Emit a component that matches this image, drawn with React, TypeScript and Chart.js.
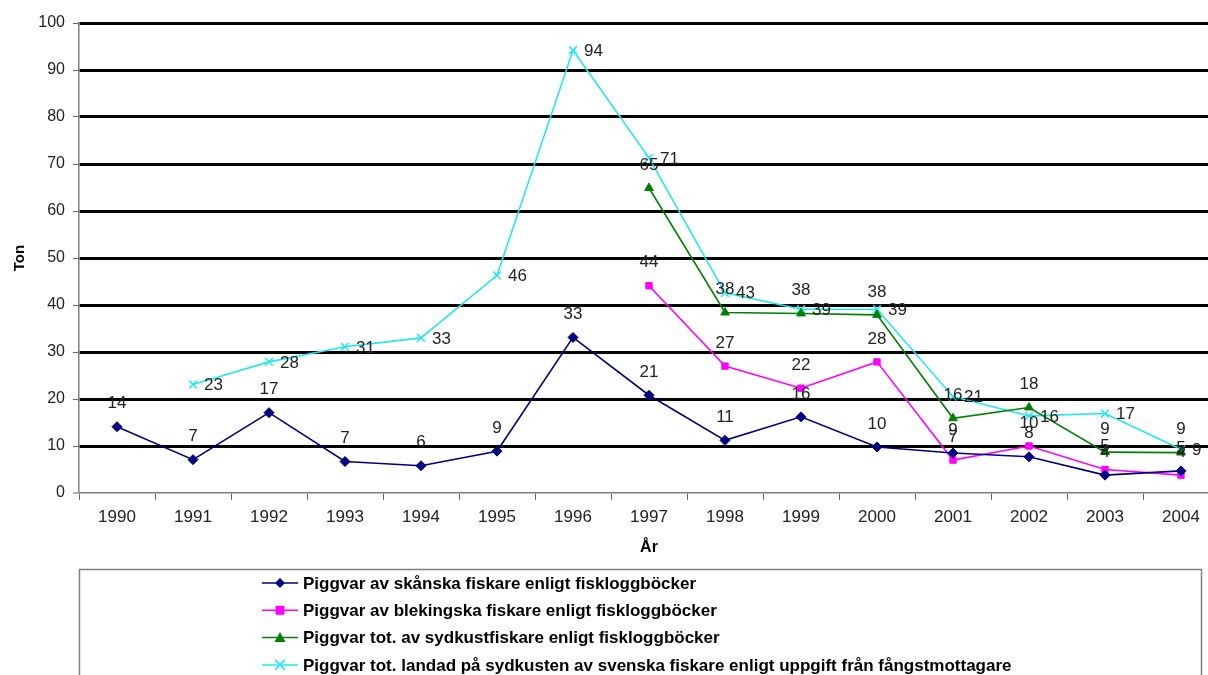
import React, { useEffect, useRef } from "react";
import { Chart, registerables } from "chart.js";

Chart.register(...registerables);

const years = ["1990","1991","1992","1993","1994","1995","1996","1997","1998","1999","2000","2001","2002","2003","2004"];
const skanska = [14.1, 7.1, 17.1, 6.7, 5.8, 8.9, 33.1, 20.8, 11.2, 16.2, 9.8, 8.5, 7.7, 3.8, 4.7];
const blekingska = [null, null, null, null, null, null, null, 44.1, 27.0, 22.3, 27.9, 7.0, 10.0, 5.0, 3.8];
const sydkust = [null, null, null, null, null, null, null, 64.9, 38.4, 38.2, 37.9, 15.9, 18.2, 8.7, 8.6];
const landad = [null, 23.1, 27.9, 31.1, 33.0, 46.3, 94.2, 71.3, 42.6, 39.1, 39.1, 20.5, 16.4, 16.9, 9.3];
const seriesNames = [
  "Piggvar av skånska fiskare enligt fiskloggböcker",
  "Piggvar av blekingska fiskare enligt fiskloggböcker",
  "Piggvar tot. av sydkustfiskare enligt fiskloggböcker",
  "Piggvar tot. landad på sydkusten av svenska fiskare enligt uppgift från fångstmottagare",
];
const seriesColors = ["#000080", "#ff00ff", "#008000", "#22e6ee"];
const yTicks = [0, 10, 20, 30, 40, 50, 60, 70, 80, 90, 100];

const FONT = "'Liberation Sans', Arial, sans-serif";

function drawMarker(ctx: CanvasRenderingContext2D, style: string, x: number, y: number, color: string) {
  ctx.save();
  ctx.fillStyle = color;
  ctx.strokeStyle = color;
  ctx.lineWidth = 1.5;
  ctx.beginPath();
  if (style === "rectRot") {
    ctx.moveTo(x, y - 5); ctx.lineTo(x + 5, y); ctx.lineTo(x, y + 5); ctx.lineTo(x - 5, y); ctx.closePath(); ctx.fill();
  } else if (style === "rect") {
    ctx.rect(x - 4.5, y - 4.5, 9, 9); ctx.fill();
  } else if (style === "triangle") {
    ctx.moveTo(x, y - 5.5); ctx.lineTo(x + 5.5, y + 4.5); ctx.lineTo(x - 5.5, y + 4.5); ctx.closePath(); ctx.fill();
  } else {
    ctx.moveTo(x - 5, y - 5); ctx.lineTo(x + 5, y + 5); ctx.moveTo(x + 5, y - 5); ctx.lineTo(x - 5, y + 5); ctx.stroke();
  }
  ctx.restore();
}

const pointStyles = ["rectRot", "rect", "triangle", "crossRot"];

const labelsPlugin = {
  id: "valueLabels",
  afterDatasetsDraw(chart: any) {
    const ctx = chart.ctx as CanvasRenderingContext2D;
    ctx.save();
    ctx.font = `17px ${FONT}`;
    ctx.fillStyle = "#222";
    chart.data.datasets.forEach((ds: any, di: number) => {
      const meta = chart.getDatasetMeta(di);
      meta.data.forEach((pt: any, i: number) => {
        const v = ds.data[i];
        if (v === null || v === undefined) return;
        const txt = String(Math.round(v));
        ctx.textBaseline = "middle";
        if (di === 3) {
          ctx.textAlign = "left";
          ctx.fillText(txt, pt.x + 11, pt.y + 1);
        } else {
          ctx.textAlign = "center";
          ctx.fillText(txt, pt.x, pt.y - 23);
        }
      });
    });
    ctx.restore();
  },
};

const legendPlugin = {
  id: "boxLegend",
  afterDraw(chart: any) {
    const ctx = chart.ctx as CanvasRenderingContext2D;
    ctx.save();
    ctx.strokeStyle = "#808080";
    ctx.lineWidth = 1.5;
    ctx.strokeRect(79.5, 569.5, 1122, 130);
    ctx.font = `bold 17px ${FONT}`;
    ctx.textAlign = "left";
    ctx.textBaseline = "middle";
    chart.data.datasets.forEach((ds: any, i: number) => {
      const y = 583 + i * 27.3;
      ctx.strokeStyle = seriesColors[i];
      ctx.lineWidth = 1.5;
      ctx.beginPath();
      ctx.moveTo(262, y);
      ctx.lineTo(298, y);
      ctx.stroke();
      drawMarker(ctx, pointStyles[i], 280, y, seriesColors[i]);
      ctx.fillStyle = "#000";
      ctx.fillText(ds.label, 303, y + 1);
    });
    ctx.restore();
  },
};

export default function App() {
  const ref = useRef<HTMLCanvasElement | null>(null);
  useEffect(() => {
    document.body.style.margin = "0";
    const canvas = ref.current!;
    const series = [skanska, blekingska, sydkust, landad];
    const chart = new Chart(canvas, {
      type: "line",
      data: {
        labels: years,
        datasets: series.map((d, i) => ({
          label: seriesNames[i],
          data: d,
          borderColor: seriesColors[i],
          backgroundColor: seriesColors[i],
          borderWidth: 1.6,
          pointStyle: pointStyles[i] as any,
          pointRadius: i === 3 ? 5.5 : i === 1 ? 4.5 : 5,
          pointBorderWidth: i === 3 ? 1.5 : 1,
          pointBackgroundColor: seriesColors[i],
          pointBorderColor: seriesColors[i],
          tension: 0,
          spanGaps: false,
        })),
      },
      options: {
        animation: false,
        responsive: false,
        maintainAspectRatio: false,
        layout: { padding: { left: 0, top: 23, right: 11, bottom: 112 } },
        plugins: { legend: { display: false }, tooltip: { enabled: false }, title: { display: false } },
        scales: {
          x: {
            type: "category",
            offset: true,
            afterFit: (s: any) => { s.height = 70; },
            grid: { offset: true, drawOnChartArea: false, drawTicks: true, tickLength: 7, tickColor: "#666", tickWidth: 1 },
            border: { display: true, color: "#808080", width: 1.5 },
            ticks: { font: { family: FONT, size: 17 }, color: "#222", padding: 7, maxRotation: 0, autoSkip: false },
            title: { display: true, text: "År", font: { family: FONT, size: 16, weight: "bold" }, color: "#000", padding: { top: 6, bottom: 6 } },
          },
          y: {
            min: 0,
            max: 100,
            afterFit: (s: any) => { s.width = 79; },
            afterBuildTicks: (s: any) => { s.ticks = yTicks.map((v) => ({ value: v })); },
            grid: {
              color: "#000",
              lineWidth: (c: any) => (c.tick && c.tick.value === 0 ? 0 : 3),
              drawTicks: true,
              tickLength: 6,
              tickColor: "#666",
              tickWidth: 1,
            },
            border: { display: true, color: "#808080", width: 1.5 },
            ticks: { font: { family: FONT, size: 16 }, color: "#222", padding: 8 },
            title: { display: true, text: "Ton", font: { family: FONT, size: 15, weight: "bold" }, color: "#000", padding: { top: 11, bottom: 4 } },
          },
        },
      },
      plugins: [labelsPlugin, legendPlugin],
    });
    return () => chart.destroy();
  }, []);
  return (
    <div style={{ width: 1208, height: 675, overflow: "hidden", background: "#fff" }}>
      <canvas ref={ref} width={1230} height={675} style={{ display: "block" }} />
    </div>
  );
}
